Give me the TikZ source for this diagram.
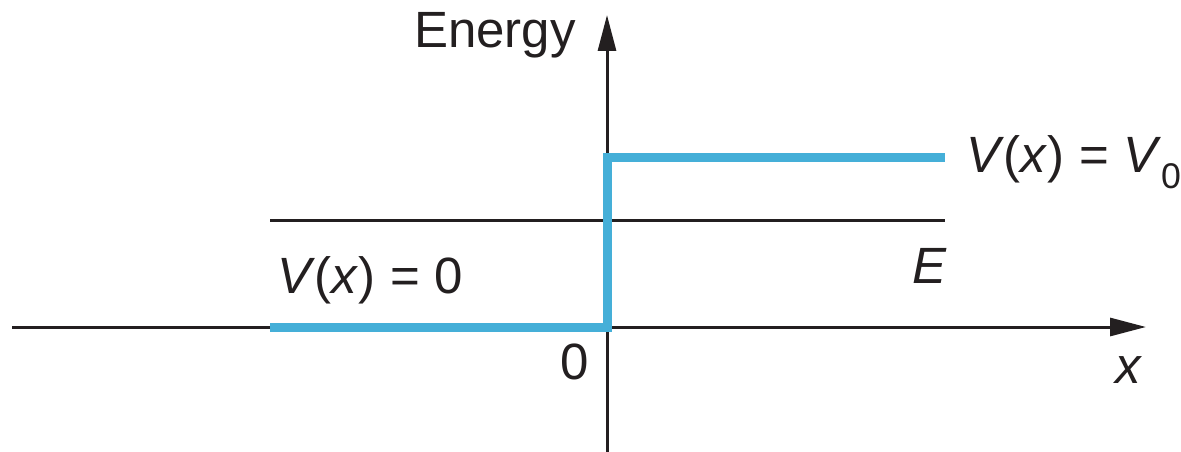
\documentclass[tikz,border=0pt]{standalone}
\usepackage{fontspec}
\setmainfont{Liberation Sans}
\usetikzlibrary{arrows.meta}
\definecolor{ink}{HTML}{231F20}
\definecolor{stepblue}{HTML}{45AFD8}
\begin{document}
\begin{tikzpicture}[x=1pt,y=-1pt,
  axis/.style={draw=ink,line width=3pt,-{Triangle[length=36pt,width=18pt]}},
  level/.style={draw=ink,line width=3pt},
  pot/.style={draw=stepblue,line width=9pt,line join=miter},
  lbl/.style={inner sep=0pt,outer sep=0pt,text=ink,font=\fontsize{51}{60}\selectfont}]
\useasboundingbox (0,0) rectangle (1181,452);
% axes
\coordinate (xs) at (12,327);
\coordinate (xe) at (1146,327);
\coordinate (ys) at (607,452);
\coordinate (ye) at (607,15);
\draw[axis] (xs) -- (xe);
\draw[axis] (ys) -- (ye);
% energy level E
\coordinate (el) at (270,220);
\coordinate (er) at (945,220);
\draw[level] (el) -- (er);
% potential step
\coordinate (p0) at (270,327);
\coordinate (p1) at (607,327);
\coordinate (p2) at (607,157);
\coordinate (p3) at (945,157);
\draw[pot] (p0) -- (p1) -- (p2) -- (p3);
% labels
\node[lbl,anchor=base west] (energy) at (414,48) {Energy};
\node[lbl,anchor=base west] (vv0) at (966,172) {\textit{V}(\textit{x}) = \textit{V}\textsubscript{0}};
\node[lbl,anchor=base west] (v0) at (277,293) {\textit{V}(\textit{x}) = 0};
\node[lbl,anchor=base west] (elab) at (912,283) {\textit{E}};
\node[lbl,anchor=base west] (zero) at (560,379) {0};
\node[lbl,anchor=base west] (xlab) at (1115,383) {\textit{x}};
\end{tikzpicture}
\end{document}
